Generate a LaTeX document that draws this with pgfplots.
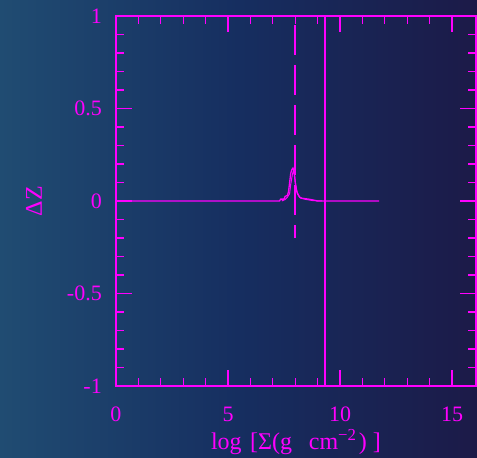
\documentclass[border=0pt]{standalone}
\usepackage{pgfplots}
\pgfplotsset{compat=1.18}
\usepackage{fontspec}
\setmainfont{Liberation Serif}
\definecolor{mag}{RGB}{255,0,255}
\definecolor{bgL}{RGB}{32,76,114}
\definecolor{bgM}{RGB}{22,46,96}
\definecolor{bgR}{RGB}{28,26,72}
\begin{document}
\begin{tikzpicture}
\shade[left color=bgL, right color=bgR, middle color=bgM] (0pt,0pt) rectangle (477pt,458pt);
\begin{axis}[at={(116pt,72pt)}, anchor=south west, scale only axis,
  width=360pt, height=370pt,
  xmin=0, xmax=16.07, ymin=-1, ymax=1,
  axis line style={mag, line width=1.8pt},
  tick style={mag, line width=1.3pt},
  tick align=inside,
  major tick length=16pt, minor tick length=8pt,
  xtick={0,5,10,15}, xticklabels={0,5,10,15},
  ytick={-1,-0.5,0,0.5,1}, yticklabels={-1,-0.5,0,0.5,1},
  minor x tick num=4, minor y tick num=4,
  every tick label/.append style={font=\fontsize{22}{26}\selectfont, text=mag},
  xticklabel style={anchor=center, yshift=-28pt},
  yticklabel style={anchor=east, inner sep=0pt, xshift=-14pt},
  xlabel={log\hspace{0.35em}[Σ(g\hspace{0.7em}cm\textsuperscript{−2}\hspace{0.1em})\hspace{0.25em}]},
  ylabel={ΔZ},
  label style={font=\fontsize{24}{28}\selectfont, text=mag},
  xlabel style={anchor=center, at={(axis description cs:0.5,-0.151)}},
  ylabel style={anchor=center, at={(axis description cs:-0.228,0.5)}},
  clip=false,
]
\addplot[mag, line width=1.3pt] coordinates {
(0,0) (7.3,0) (7.35,0.01) (7.5,0.01) (7.55,0.025) (7.65,0.03) (7.7,0.05) (7.75,0.1) (7.8,0.15) (7.85,0.17) (7.9,0.178) (7.95,0.16) (8.0,0.1) (8.05,0.06) (8.1,0.04) (8.2,0.02) (8.3,0.015) (8.6,0.01) (8.9,0.003) (9.0,0) (11.75,0)};
\addplot[mag, line width=1.0pt] coordinates {
(7.4,0) (7.55,0.008) (7.65,0.02) (7.75,0.04) (7.8,0.09) (7.87,0.14) (7.92,0.165) (7.97,0.14) (8.02,0.09) (8.08,0.05) (8.15,0.03) (8.25,0.015) (8.5,0.008) (8.8,0.002) (9.2,0)};
\addplot[mag, line width=1.7pt, dash pattern=on 30pt off 10pt, dash phase=-9pt] coordinates {(8.0,1) (8.0,-0.2)};
\addplot[mag, line width=1.6pt] coordinates {(9.33,1) (9.33,-1)};
\end{axis}
\end{tikzpicture}
\end{document}
